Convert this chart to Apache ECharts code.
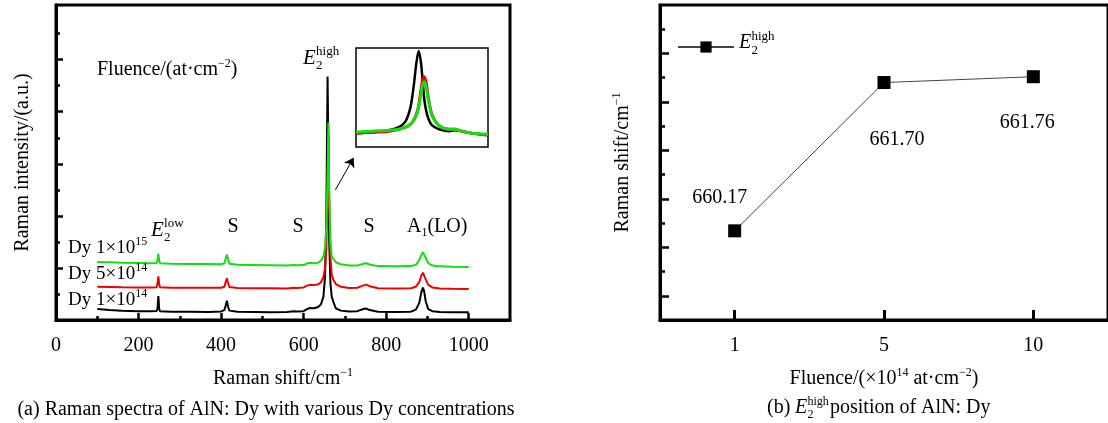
<!DOCTYPE html>
<html>
<head>
<meta charset="utf-8">
<script src="https://cdn.jsdelivr.net/npm/echarts@6/dist/echarts.min.js"></script>
<style>
  html, body { margin: 0; padding: 0; background: #fff; }
  #main { width: 1108px; height: 423px; }
</style>
</head>
<body>
<div id="main"></div>
<script>
// (a) Raman spectra, intensity in arbitrary units (offset traces)
var ramanShift = [100, 130, 160, 200, 230, 244, 246, 248, 250, 252, 280, 320, 370, 400, 408, 411, 414, 417, 420, 440,
  480, 520, 560, 575, 579, 583, 600, 608, 615, 625, 635, 642, 648, 652, 655, 658, 660, 662, 665, 668,
  672, 678, 690, 710, 730, 745, 752, 760, 780, 820, 860, 872, 880, 885, 889, 892, 896, 902, 912, 930, 960, 1000];
var dy1e14 = [0.42, 0.38, 0.36, 0.34, 0.34, 0.35, 0.45, 0.92, 0.42, 0.34, 0.32, 0.32, 0.31, 0.33, 0.38, 0.55, 0.74, 0.5, 0.36, 0.32,
  0.31, 0.30, 0.31, 0.34, 0.40, 0.33, 0.34, 0.42, 0.46, 0.45, 0.5, 0.6, 0.9, 1.7, 4.0, 9.35, 6.5, 3.0, 1.4, 0.9,
  0.7, 0.45, 0.36, 0.33, 0.34, 0.42, 0.44, 0.38, 0.32, 0.31, 0.32, 0.4, 0.65, 1.05, 1.25, 1.1, 0.7, 0.42, 0.34, 0.31, 0.30, 0.30];
var dy5e14 = [1.28, 1.27, 1.26, 1.25, 1.25, 1.26, 1.4, 1.68, 1.38, 1.26, 1.24, 1.24, 1.24, 1.24, 1.28, 1.45, 1.6, 1.42, 1.27, 1.23,
  1.22, 1.22, 1.21, 1.24, 1.28, 1.23, 1.25, 1.32, 1.35, 1.34, 1.37, 1.45, 1.65, 2.0, 2.8, 5.0, 7.2, 4.5, 2.4, 1.75,
  1.55, 1.38, 1.28, 1.23, 1.24, 1.33, 1.36, 1.3, 1.22, 1.21, 1.22, 1.28, 1.45, 1.7, 1.82, 1.78, 1.55, 1.35, 1.25, 1.21, 1.2, 1.19];
var dy1e15 = [2.23, 2.22, 2.2, 2.19, 2.18, 2.19, 2.3, 2.55, 2.28, 2.18, 2.16, 2.15, 2.15, 2.14, 2.18, 2.35, 2.52, 2.32, 2.16, 2.12,
  2.11, 2.1, 2.09, 2.11, 2.15, 2.1, 2.11, 2.17, 2.2, 2.18, 2.2, 2.28, 2.45, 2.8, 3.6, 5.6, 7.6, 5.0, 3.0, 2.45,
  2.35, 2.22, 2.14, 2.09, 2.09, 2.16, 2.18, 2.13, 2.07, 2.06, 2.07, 2.12, 2.3, 2.5, 2.6, 2.55, 2.38, 2.18, 2.09, 2.06, 2.05, 2.04];

// inset: zoom on the E2(high) peak
var insetShift = [640, 645, 650, 653, 655, 656.5, 657.5, 658.3, 659, 659.7, 660.2, 660.7, 661.3, 662, 663, 665, 668, 670, 672, 675, 680];
var insetDy1e14 = [0.14, 0.15, 0.17, 0.2, 0.26, 0.4, 0.62, 0.85, 0.97, 0.85, 0.66, 0.48, 0.36, 0.28, 0.22, 0.18, 0.16, 0.17, 0.16, 0.14, 0.12];
var insetDy5e14 = [0.14, 0.15, 0.16, 0.18, 0.2, 0.23, 0.27, 0.33, 0.42, 0.58, 0.68, 0.71, 0.64, 0.48, 0.33, 0.22, 0.18, 0.18, 0.16, 0.14, 0.12];
var insetDy1e15 = [0.15, 0.16, 0.17, 0.18, 0.2, 0.23, 0.27, 0.32, 0.4, 0.54, 0.63, 0.66, 0.6, 0.46, 0.32, 0.22, 0.18, 0.18, 0.16, 0.14, 0.13];

// (b) E2(high) position
var fluence = ['1', '5', '10'];
var peakPos = [660.17, 661.70, 661.76];
var labelOffsets = [[-15, -33], [13, 57], [-6, 46]];

var FONT = 'Liberation Serif';

function pairs(xs, ys) {
  return xs.map(function (x, i) { return [x, ys[i]]; });
}

function txt(x, y, text, size, extra) {
  extra = extra || {};
  return {
    type: 'text', x: x, y: y, z: 100,
    style: {
      text: text, fontFamily: FONT, fontSize: size, fill: '#000',
      fontStyle: extra.italic ? 'italic' : 'normal',
      textAlign: extra.align || 'left', textVerticalAlign: 'middle',
      rich: extra.rich
    }
  };
}

// E with stacked subscript 2 and superscript
function e2(x, y, sup, size, supSize) {
  var off = size * 0.62;
  return {
    type: 'group', x: x, y: y, children: [
      txt(0, 0, 'E', size, { italic: true }),
      txt(off, -size * 0.32, sup, supSize),
      txt(off, size * 0.36, '2', supSize)
    ]
  };
}

// ticks pointing into the plot: negative length
function ticks(len, vals, width) {
  var t = { show: true, length: -len, lineStyle: { width: width || 2.5, color: '#000' } };
  if (vals) t.customValues = vals;
  return t;
}

// tick-only helper axis (no line, no labels)
function tickAxis(grid, pos, min, max, vals, len) {
  return {
    gridIndex: grid, type: 'value', position: pos, min: min, max: max,
    axisLine: { show: false },
    axisTick: ticks(len, vals),
    axisLabel: { show: false }, splitLine: { show: false }
  };
}

var baseRich = {
  a: { fontFamily: FONT, fontSize: 20, lineHeight: 24 },
  b: { fontFamily: FONT, fontSize: 19, lineHeight: 24 },
  sup: { fontFamily: FONT, fontSize: 12, verticalAlign: 'top', lineHeight: 24 },
  sub: { fontFamily: FONT, fontSize: 12, verticalAlign: 'bottom', lineHeight: 24 }
};

var myChart = echarts.init(document.getElementById('main'));

var option = {
  animation: false,
  backgroundColor: '#fff',
  textStyle: { fontFamily: FONT, color: '#000' },
  grid: [
    { left: 56, top: 5, width: 454, height: 315, show: true, borderColor: '#000', borderWidth: 3, backgroundColor: 'transparent' },
    { left: 356, top: 48, width: 132, height: 99, show: true, borderColor: '#000', borderWidth: 1.5, backgroundColor: 'transparent' },
    { left: 660, top: 5, width: 453, height: 315, show: true, borderColor: '#000', borderWidth: 3, backgroundColor: 'transparent' }
  ],
  xAxis: [
    {
      gridIndex: 0, type: 'value', position: 'bottom', min: 0, max: 1100, interval: 200,
      name: '{a|Raman shift/cm}{sup|−1}', nameLocation: 'middle', nameGap: 47,
      nameTextStyle: { rich: baseRich },
      axisLine: { lineStyle: { color: '#000', width: 3 } },
      axisTick: ticks(7, [200, 400, 600, 800, 1000]),
      axisLabel: {
        fontSize: 20, color: '#000', margin: 16,
        formatter: function (v) { return v > 1000 ? '' : v; }
      },
      splitLine: { show: false }
    },
    tickAxis(0, 'bottom', 0, 1100, [100, 300, 500, 700, 900], 4),
    { gridIndex: 1, type: 'value', min: 640, max: 680, show: false },
    {
      gridIndex: 2, type: 'category', position: 'bottom', data: fluence, boundaryGap: true,
      name: '{a|Fluence/(×10}{sup|14}{a| at·cm}{sup|−2}{a|)}', nameLocation: 'middle', nameGap: 47,
      nameTextStyle: { rich: baseRich },
      axisLine: { lineStyle: { color: '#000', width: 3 } },
      axisTick: Object.assign(ticks(10, null, 3), { alignWithLabel: true }),
      axisLabel: { fontSize: 20, color: '#000', margin: 16 }
    }
  ],
  yAxis: [
    {
      gridIndex: 0, type: 'value', position: 'left', min: 0, max: 12.1,
      name: 'Raman intensity/(a.u.)', nameLocation: 'middle', nameRotate: 90, nameGap: 23,
      nameTextStyle: { fontSize: 20, color: '#000' },
      axisLine: { show: true, lineStyle: { color: '#000', width: 3 } },
      axisTick: ticks(7, [2, 4, 6, 8, 10]),
      axisLabel: { show: false }, splitLine: { show: false }
    },
    tickAxis(0, 'left', 0, 12.1, [1, 3, 5, 7, 9, 11], 4),
    { gridIndex: 1, type: 'value', min: 0, max: 1, show: false },
    {
      gridIndex: 2, type: 'value', position: 'left', min: 659.25, max: 662.5,
      name: '{a|Raman shift/cm}{sup|−1}', nameLocation: 'middle', nameRotate: 90, nameGap: 25,
      nameTextStyle: { rich: baseRich },
      axisLine: { show: true, lineStyle: { color: '#000', width: 3 } },
      axisTick: ticks(9, [659.5, 660, 660.5, 661, 661.5, 662]),
      axisLabel: { show: false }, splitLine: { show: false }
    },
    tickAxis(2, 'left', 659.25, 662.5, [659.75, 660.25, 660.75, 661.25, 661.75, 662.25], 5)
  ],
  legend: {
    data: ['E2high'], left: 672, top: 35, itemWidth: 56, itemHeight: 14,
    formatter: function () { return ''; },
    selectedMode: false
  },
  series: [
    {
      name: 'Dy 1e14', type: 'line', xAxisIndex: 0, yAxisIndex: 0, showSymbol: false,
      lineStyle: { color: '#000', width: 2 }, data: pairs(ramanShift, dy1e14)
    },
    {
      name: 'Dy 5e14', type: 'line', xAxisIndex: 0, yAxisIndex: 0, showSymbol: false,
      lineStyle: { color: '#f00000', width: 2 }, data: pairs(ramanShift, dy5e14)
    },
    {
      name: 'Dy 1e15', type: 'line', xAxisIndex: 0, yAxisIndex: 0, showSymbol: false,
      lineStyle: { color: '#10e010', width: 2 }, data: pairs(ramanShift, dy1e15),
      markLine: {
        silent: true, symbol: ['none', 'arrow'], symbolSize: 9,
        label: { show: false },
        lineStyle: { color: '#000', width: 1, type: 'solid' },
        data: [[{ coord: [677, 5.0] }, { coord: [721, 6.23] }]]
      }
    },
    {
      name: 'inset 1e14', type: 'line', xAxisIndex: 2, yAxisIndex: 2, showSymbol: false, smooth: 0.3,
      lineStyle: { color: '#000', width: 2.5 }, data: pairs(insetShift, insetDy1e14)
    },
    {
      name: 'inset 5e14', type: 'line', xAxisIndex: 2, yAxisIndex: 2, showSymbol: false, smooth: 0.3,
      lineStyle: { color: '#f00000', width: 3 }, data: pairs(insetShift, insetDy5e14)
    },
    {
      name: 'inset 1e15', type: 'line', xAxisIndex: 2, yAxisIndex: 2, showSymbol: false, smooth: 0.3,
      lineStyle: { color: '#10e010', width: 3 }, data: pairs(insetShift, insetDy1e15)
    },
    {
      name: 'E2high', type: 'line', xAxisIndex: 3, yAxisIndex: 3,
      symbol: 'rect', symbolSize: 13,
      itemStyle: { color: '#000' },
      lineStyle: { color: '#444', width: 1 },
      label: {
        show: true, position: 'inside', fontSize: 20, color: '#000',
        formatter: function (p) { return p.value.toFixed(2); }
      },
      data: peakPos.map(function (v, i) {
        return { value: v, label: { offset: labelOffsets[i] } };
      })
    }
  ],
  graphic: [
    txt(97, 70, '{a|Fluence/(at·cm}{sup|−2}{a|)}', 20, { rich: baseRich }),
    e2(303, 58, 'high', 21, 13),
    e2(151, 230, 'low', 21, 13),
    txt(233, 227, 'S', 20, { align: 'center' }),
    txt(298, 227, 'S', 20, { align: 'center' }),
    txt(369, 227, 'S', 20, { align: 'center' }),
    txt(407, 227, '{a|A}{sub|1}{a|(LO)}', 20, { rich: baseRich }),
    txt(68, 248, '{b|Dy 1×10}{sup|15}', 19, { rich: baseRich }),
    txt(68, 274, '{b|Dy 5×10}{sup|14}', 19, { rich: baseRich }),
    txt(68, 300, '{b|Dy 1×10}{sup|14}', 19, { rich: baseRich }),
    e2(739, 43, 'high', 20, 13),
    txt(266, 410, '(a) Raman spectra of AlN: Dy with various Dy concentrations', 20, { align: 'center' }),
    {
      type: 'group', x: 767, y: 408, children: [
        txt(0, 0, '(b)', 20),
        e2(28, 0, 'high', 20, 12),
        txt(63, 0, 'position of AlN: Dy', 20)
      ]
    }
  ]
};

myChart.setOption(option);
window.onresize = myChart.resize;
</script>
</body>
</html>
